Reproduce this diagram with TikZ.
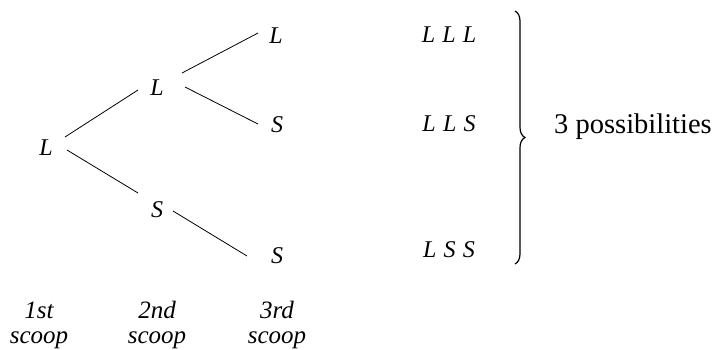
\documentclass[tikz,border=0pt]{standalone}
\usepackage{fontspec}
\setmainfont{Liberation Serif}
\usetikzlibrary{decorations.pathreplacing}
\begin{document}
\begin{tikzpicture}[x=1pt,y=-1pt,
  choice/.style={font=\fontsize{24}{28}\selectfont\itshape, anchor=base, inner sep=0pt},
  outcome/.style={font=\fontsize{24}{28}\selectfont\itshape, anchor=base, inner sep=0pt},
  stage/.style={font=\fontsize{25}{25}\selectfont\itshape, align=center, anchor=base, inner sep=0pt},
  branch/.style={line width=0.8pt}]
\useasboundingbox (0,0) rectangle (715,349);

% tree of scoops
\node[choice] (root) at (46,155) {L};
\node[choice] (mL) at (157,95) {L};
\node[choice] (mS) at (157,217) {S};
\node[choice] (tLL) at (276,43) {L};
\node[choice] (tLS) at (277,132) {S};
\node[choice] (tSS) at (277,263) {S};

\draw[branch] ([shift={(19,-18)}]root.base) -- ([shift={(-19,-5)}]mL.base);
\draw[branch] ([shift={(21,-5)}]root.base) -- ([shift={(-19,-24)}]mS.base);
\draw[branch] ([shift={(25,-22)}]mL.base) -- ([shift={(-18,-10)}]tLL.base);
\draw[branch] ([shift={(28,-8)}]mL.base) -- ([shift={(-19,-8)}]tLS.base);
\draw[branch] ([shift={(16,-6)}]mS.base) -- ([shift={(-30,-7)}]tSS.base);

% stage labels
\node[stage] (s1) at (39,343) {1st\\scoop};
\node[stage] (s2) at (157,343) {2nd\\scoop};
\node[stage] (s3) at (277,343) {3rd\\scoop};

% outcome list
\node[outcome] (o1) at (449,42) {L\hspace{0.3em}L\hspace{0.3em}L};
\node[outcome] (o2) at (449,131) {L\hspace{0.3em}L\hspace{0.3em}S};
\node[outcome] (o3) at (449,257) {L\hspace{0.3em}S\hspace{0.3em}S};

\coordinate (btop) at (515,11);
\coordinate (bbot) at (515,264);
\draw[line width=1.2pt, decorate, decoration={brace, amplitude=10pt}] (btop) -- (bbot);
\node[font=\fontsize{28.5}{32}\selectfont, anchor=base west, inner sep=0pt] (poss) at (554,133) {3 possibilities};
\end{tikzpicture}
\end{document}
